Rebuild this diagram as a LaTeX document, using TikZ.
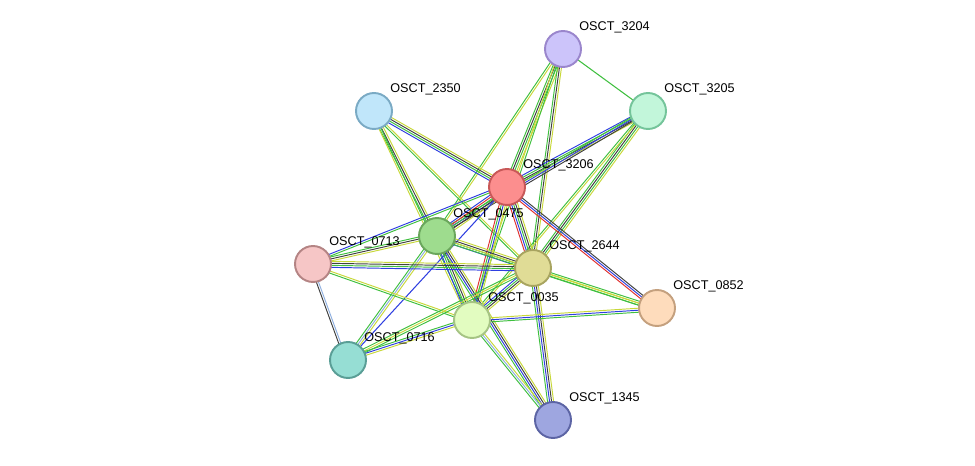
\documentclass[tikz,border=0pt]{standalone}
\usepackage{fontspec}
\setmainfont{Liberation Sans}
\usetikzlibrary{calc,backgrounds}
\definecolor{sgreen}{HTML}{3FBF3F}
\definecolor{sblue}{HTML}{2F3FE0}
\definecolor{syel}{HTML}{C8D83A}
\definecolor{sred}{HTML}{E03030}
\definecolor{sdark}{HTML}{404040}
\definecolor{slila}{HTML}{8FB0E0}
\tikzset{
  prot/.style 2 args={circle, minimum size=0.72cm, inner sep=0, line width=1.1pt,
    /utils/exec={\definecolor{pfill}{HTML}{#1}\definecolor{pdraw}{HTML}{#2}},
    fill=pfill, draw=pdraw},
  lbl/.style={font=\fontsize{7.2}{8}\selectfont, inner sep=1.5pt},
}
% multi-coloured link between two proteins
\newcommand{\link}[3]{%
  \foreach \c [count=\i] in {#3}
    \draw[\c, line width=0.55pt]
      ($(#1.center)!{(\i-2.5)*1.15pt}!90:(#2.center)$) --
      ($(#2.center)!{(\i-2.5)*1.15pt}!-90:(#1.center)$);}
\begin{document}
\begin{tikzpicture}[x=0.02cm,y=-0.02cm]
  \useasboundingbox (0,0) rectangle (975,466);
  \node[prot={CCC4FA}{9A86CC}, label={[lbl]above right:OSCT\_3204}] (p3204) at (563,49) {};
  \node[prot={C2F6DA}{74C49A}, label={[lbl]above right:OSCT\_3205}] (p3205) at (648,111) {};
  \node[prot={C0E6FA}{7AAAC4}, label={[lbl]above right:OSCT\_2350}] (p2350) at (374,111) {};
  \node[prot={FC8E8E}{C85858}, label={[lbl]above right:OSCT\_3206}] (p3206) at (507,187) {};
  \node[prot={9EDC8E}{6AA65C}, label={[lbl]above right:OSCT\_0475}] (p0475) at (437,236) {};
  \node[prot={F6C6C6}{B48484}, label={[lbl]above right:OSCT\_0713}] (p0713) at (313,264) {};
  \node[prot={E0DC96}{A8A460}, label={[lbl]above right:OSCT\_2644}] (p2644) at (533,268) {};
  \node[prot={FEDCBC}{C4A07E}, label={[lbl]above right:OSCT\_0852}] (p0852) at (657,308) {};
  \node[prot={E2FCC0}{A6C484}, label={[lbl]above right:OSCT\_0035}] (p0035) at (472,320) {};
  \node[prot={96DED4}{5A9E96}, label={[lbl]above right:OSCT\_0716}] (p0716) at (348,360) {};
  \node[prot={9EA6E0}{5C64A4}, label={[lbl]above right:OSCT\_1345}] (p1345) at (553,420) {};
  \begin{scope}[on background layer]
    \draw[sgreen, line width=0.6pt] (p3204) -- (p3205);
    \link{p3204}{p3206}{sgreen,sdark,sgreen,syel}
    \link{p3204}{p0475}{sgreen,syel}
    \link{p3204}{p2644}{sgreen,sdark,syel}
    \link{p3204}{p0035}{syel,sgreen}
    \link{p3205}{p3206}{sblue,sgreen,sdark,syel}
    \link{p3205}{p2644}{sgreen,sdark,sgreen,syel}
    \link{p3205}{p0035}{sgreen,syel}
    \link{p3205}{p0475}{sgreen,sblue,sdark}
    \link{p2350}{p3206}{sblue,sgreen,sdark,syel}
    \link{p2350}{p0475}{sgreen,sdark,syel}
    \link{p2350}{p2644}{sgreen,syel}
    \link{p2350}{p0035}{syel,sgreen}
    \link{p3206}{p0475}{sblue,sred,sgreen,sdark,syel}
    \link{p3206}{p0713}{sblue,sgreen}
    \link{p3206}{p2644}{sred,sblue,sgreen,sdark,syel}
    \link{p3206}{p0852}{sred,sblue,sdark}
    \link{p3206}{p0035}{sred,sgreen,sblue,syel}
    \draw[sblue, line width=0.6pt] (p3206) -- (p0716);
    \link{p0475}{p0713}{sgreen,sdark,syel}
    \link{p0475}{p2644}{sblue,sgreen,sdark,syel}
    \link{p0475}{p0035}{sblue,sgreen,sdark,syel}
    \link{p0475}{p0716}{sgreen,slila,syel}
    \link{p0475}{p1345}{sgreen,sblue,sdark,syel}
    \link{p0475}{p0852}{sgreen,syel}
    \link{p0713}{p2644}{sblue,sgreen,sdark,syel}
    \link{p0713}{p0035}{sgreen,syel}
    \link{p0713}{p0716}{sdark,slila}
    \link{p2644}{p0852}{sgreen,syel,sgreen}
    \link{p2644}{p0035}{sblue,sgreen,sdark,syel}
    \link{p2644}{p0716}{sgreen,syel,sgreen}
    \link{p2644}{p1345}{sgreen,sblue,sdark,syel}
    \link{p0035}{p0852}{sgreen,sblue,syel}
    \link{p0035}{p0716}{sgreen,sblue,syel}
    \link{p0035}{p1345}{sgreen,slila,syel}
  \end{scope}
\end{tikzpicture}
\end{document}
